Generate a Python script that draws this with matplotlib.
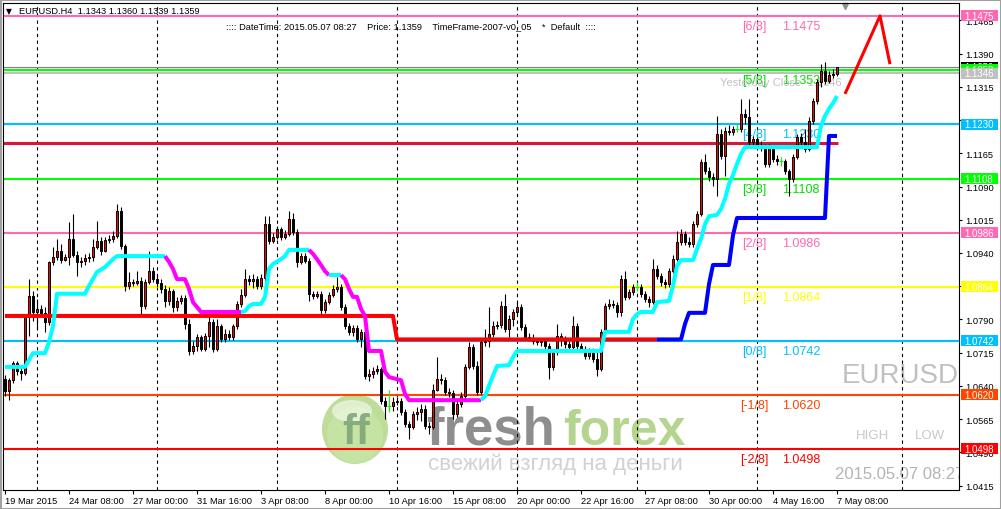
import matplotlib
matplotlib.use('Agg')
import matplotlib.pyplot as plt
import matplotlib.transforms as mtransforms
from matplotlib.patches import Rectangle, Ellipse
import numpy as np

# ---------------- data ----------------
opens = [1.0656,1.0629,1.0653,1.0692,1.0674,1.0669,1.0796,1.0843,1.0807,1.0814,
1.0805,1.0784,1.0920,1.0931,1.0945,1.0924,1.0931,1.0972,1.0936,1.0920,
1.0922,1.0929,1.0931,1.0954,1.0967,1.0945,1.0969,1.0972,1.0978,1.1035,
1.0956,1.0866,1.0875,1.0872,1.0877,1.0820,1.0875,1.0899,1.0881,1.0872,
1.0859,1.0832,1.0854,1.0818,1.0832,1.0839,1.0780,1.0719,1.0730,1.0751,
1.0723,1.0753,1.0784,1.0723,1.0775,1.0746,1.0757,1.0751,1.0775,1.0825,
1.0845,1.0881,1.0877,1.0881,1.0866,1.0884,1.1005,1.0967,1.0976,1.0994,
1.0976,1.0983,1.1017,1.0987,1.0920,1.0933,1.0922,1.0848,1.0843,1.0848,
1.0811,1.0829,1.0845,1.0859,1.0863,1.0818,1.0775,1.0762,1.0771,1.0746,
1.0762,1.0663,1.0667,1.0674,1.0678,1.0606,1.0595,1.0595,1.0604,1.0606,
1.0581,1.0554,1.0548,1.0577,1.0581,1.0588,1.0550,1.0548,1.0632,1.0656,
1.0653,1.0626,1.0624,1.0577,1.0599,1.0617,1.0683,1.0728,1.0685,1.0626,
1.0739,1.0742,1.0757,1.0775,1.0778,1.0820,1.0769,1.0791,1.0807,1.0818,
1.0773,1.0751,1.0748,1.0742,1.0739,1.0742,1.0730,1.0683,1.0717,1.0753,
1.0746,1.0735,1.0728,1.0775,1.0730,1.0723,1.0708,1.0719,1.0701,1.0678,
1.0762,1.0820,1.0825,1.0823,1.0807,1.0881,1.0841,1.0852,1.0863,1.0863,
1.0848,1.0836,1.0829,1.0904,1.0888,1.0875,1.0870,1.0899,1.0926,1.0965,
1.0983,1.0965,1.0960,1.1005,1.1028,1.1145,1.1125,1.1112,1.1107,1.1208,
1.1159,1.1215,1.1213,1.1220,1.1220,1.1254,1.1247,1.1190,1.1197,1.1181,
1.1179,1.1141,1.1179,1.1152,1.1148,1.1148,1.1125,1.1107,1.1157,1.1202,
1.1190,1.1175,1.1238,1.1283,1.1326,1.1351,1.1328,1.1342,1.1343]
highs = [1.0665,1.0658,1.0696,1.0696,1.0683,1.0802,1.0881,1.0854,1.0836,1.0823,
1.0818,1.0922,1.0954,1.0972,1.0960,1.0938,1.1010,1.1028,1.0945,1.0931,
1.0938,1.0940,1.0972,1.1012,1.0976,1.0976,1.0981,1.0990,1.1051,1.1044,
1.0960,1.0897,1.0881,1.0899,1.0886,1.0881,1.0945,1.0908,1.0890,1.0881,
1.0868,1.0863,1.0859,1.0841,1.0845,1.0845,1.0791,1.0742,1.0757,1.0755,
1.0760,1.0796,1.0791,1.0791,1.0780,1.0769,1.0766,1.0780,1.0832,1.0859,
1.0904,1.0890,1.0893,1.0888,1.0893,1.1023,1.1023,1.0985,1.1001,1.0999,
1.0992,1.1035,1.1030,1.0994,1.0940,1.0940,1.0929,1.0854,1.0854,1.0854,
1.0836,1.0852,1.0868,1.0886,1.0870,1.0825,1.0782,1.0778,1.0778,1.0769,
1.0769,1.0678,1.0683,1.0687,1.0683,1.0615,1.0632,1.0615,1.0615,1.0613,
1.0588,1.0561,1.0584,1.0593,1.0599,1.0597,1.0559,1.0644,1.0705,1.0667,
1.0660,1.0635,1.0632,1.0611,1.0626,1.0690,1.0739,1.0735,1.0696,1.0746,
1.0769,1.0818,1.0787,1.0787,1.0832,1.0848,1.0800,1.0814,1.0829,1.0825,
1.0780,1.0760,1.0757,1.0748,1.0746,1.0746,1.0737,1.0723,1.0780,1.0760,
1.0753,1.0742,1.0798,1.0782,1.0737,1.0730,1.0726,1.0726,1.0723,1.0769,
1.0827,1.0836,1.0834,1.0829,1.0890,1.0899,1.0859,1.0870,1.0875,1.0870,
1.0854,1.0843,1.0926,1.0913,1.0895,1.0881,1.0906,1.0936,1.0990,1.0994,
1.0990,1.0976,1.1012,1.1035,1.1152,1.1163,1.1134,1.1121,1.1249,1.1220,
1.1224,1.1229,1.1227,1.1231,1.1287,1.1265,1.1287,1.1204,1.1202,1.1193,
1.1186,1.1186,1.1184,1.1161,1.1157,1.1152,1.1130,1.1163,1.1208,1.1211,
1.1220,1.1247,1.1290,1.1333,1.1366,1.1371,1.1351,1.1355,1.1360]
lows = [1.0617,1.0608,1.0647,1.0665,1.0653,1.0665,1.0753,1.0787,1.0769,1.0796,
1.0762,1.0778,1.0913,1.0924,1.0917,1.0922,1.0913,1.0931,1.0888,1.0908,
1.0913,1.0920,1.0922,1.0949,1.0936,1.0942,1.0963,1.0965,1.0974,1.0949,
1.0854,1.0859,1.0866,1.0868,1.0800,1.0814,1.0870,1.0875,1.0863,1.0850,
1.0818,1.0823,1.0807,1.0809,1.0825,1.0769,1.0710,1.0712,1.0719,1.0719,
1.0719,1.0728,1.0717,1.0719,1.0739,1.0739,1.0744,1.0744,1.0769,1.0818,
1.0841,1.0868,1.0861,1.0859,1.0859,1.0877,1.0960,1.0963,1.0972,1.0969,
1.0972,1.0978,1.0981,1.0908,1.0915,1.0917,1.0832,1.0836,1.0839,1.0802,
1.0805,1.0825,1.0841,1.0852,1.0811,1.0769,1.0755,1.0753,1.0739,1.0728,
1.0656,1.0651,1.0658,1.0667,1.0599,1.0566,1.0581,1.0584,1.0597,1.0575,
1.0548,1.0520,1.0543,1.0563,1.0561,1.0543,1.0532,1.0543,1.0629,1.0644,
1.0620,1.0615,1.0566,1.0570,1.0593,1.0611,1.0678,1.0678,1.0620,1.0622,
1.0730,1.0728,1.0751,1.0769,1.0771,1.0762,1.0751,1.0775,1.0802,1.0766,
1.0744,1.0742,1.0735,1.0733,1.0730,1.0723,1.0656,1.0676,1.0710,1.0730,
1.0726,1.0721,1.0723,1.0723,1.0717,1.0701,1.0701,1.0694,1.0663,1.0674,
1.0757,1.0814,1.0816,1.0796,1.0798,1.0834,1.0836,1.0845,1.0854,1.0841,
1.0829,1.0818,1.0825,1.0881,1.0866,1.0861,1.0863,1.0895,1.0922,1.0958,
1.0958,1.0954,1.0954,1.0999,1.1023,1.1118,1.1102,1.1091,1.1069,1.1152,
1.1114,1.1206,1.1206,1.1213,1.1213,1.1231,1.1184,1.1184,1.1175,1.1170,
1.1134,1.1134,1.1145,1.1139,1.1136,1.1118,1.1069,1.1100,1.1152,1.1184,
1.1168,1.1170,1.1231,1.1276,1.1315,1.1321,1.1324,1.1335,1.1339]
closes = [1.0629,1.0653,1.0692,1.0674,1.0669,1.0796,1.0843,1.0807,1.0814,1.0805,
1.0784,1.0920,1.0931,1.0945,1.0924,1.0931,1.0972,1.0936,1.0920,1.0922,
1.0929,1.0931,1.0954,1.0967,1.0945,1.0969,1.0972,1.0978,1.1035,1.0956,
1.0866,1.0875,1.0872,1.0877,1.0820,1.0875,1.0899,1.0881,1.0872,1.0859,
1.0832,1.0854,1.0818,1.0832,1.0839,1.0780,1.0719,1.0730,1.0751,1.0723,
1.0753,1.0784,1.0723,1.0775,1.0746,1.0757,1.0751,1.0775,1.0825,1.0845,
1.0881,1.0877,1.0881,1.0866,1.0884,1.1005,1.0967,1.0976,1.0994,1.0976,
1.0983,1.1017,1.0987,1.0920,1.0933,1.0922,1.0848,1.0843,1.0848,1.0811,
1.0829,1.0845,1.0859,1.0863,1.0818,1.0775,1.0762,1.0771,1.0746,1.0762,
1.0663,1.0667,1.0674,1.0678,1.0606,1.0595,1.0595,1.0604,1.0606,1.0581,
1.0554,1.0548,1.0577,1.0581,1.0588,1.0550,1.0548,1.0632,1.0656,1.0653,
1.0626,1.0624,1.0577,1.0599,1.0617,1.0683,1.0728,1.0685,1.0626,1.0739,
1.0742,1.0757,1.0775,1.0778,1.0820,1.0769,1.0791,1.0807,1.0818,1.0773,
1.0751,1.0748,1.0742,1.0739,1.0742,1.0730,1.0683,1.0717,1.0753,1.0746,
1.0735,1.0728,1.0775,1.0730,1.0723,1.0708,1.0719,1.0701,1.0678,1.0762,
1.0820,1.0825,1.0823,1.0807,1.0881,1.0841,1.0852,1.0863,1.0863,1.0848,
1.0836,1.0829,1.0904,1.0888,1.0875,1.0870,1.0899,1.0926,1.0965,1.0983,
1.0965,1.0960,1.1005,1.1028,1.1145,1.1125,1.1112,1.1107,1.1208,1.1159,
1.1215,1.1213,1.1220,1.1220,1.1254,1.1247,1.1190,1.1197,1.1181,1.1179,
1.1141,1.1179,1.1152,1.1148,1.1148,1.1125,1.1107,1.1157,1.1202,1.1190,
1.1175,1.1238,1.1283,1.1326,1.1351,1.1328,1.1342,1.1344,1.1359]

date_labels = ["19 Mar 2015", "24 Mar 08:00", "27 Mar 00:00", "31 Mar 16:00", "3 Apr 08:00",
               "8 Apr 00:00", "10 Apr 16:00", "15 Apr 08:00", "20 Apr 00:00", "22 Apr 16:00",
               "27 Apr 08:00", "30 Apr 00:00", "4 May 16:00", "7 May 08:00"]
date_label_idx = [0, 16, 32, 48, 64, 80, 96, 112, 128, 144, 160, 176, 192, 208]
grid_idx = [8, 38, 68, 98, 128, 158, 188, 224.25]

price_ticks = [1.0415, 1.0490, 1.0565, 1.0640, 1.0715, 1.0790, 1.0865, 1.0940,
               1.1015, 1.1090, 1.1165, 1.1240, 1.1315, 1.1390, 1.1465]

mm_labels = ["[6/8]", "[5/8]", "[4/8]", "[3/8]", "[2/8]", "[1/8]", "[0/8]", "[-1/8]", "[-2/8]"]
mm_values = [1.1475, 1.1353, 1.1230, 1.1108, 1.0986, 1.0864, 1.0742, 1.0620, 1.0498]
mm_colors = ['#FF69B4', '#00FF00', '#00BFFF', '#00FF00', '#FF69B4', '#FFFF00', '#00BFFF', '#FF4500', '#FF0000']
mm_text_colors = ['#FF69B4', '#00E000', '#00BFFF', '#00E000', '#FF69B4', '#FFFF00', '#00BFFF', '#FF4500', '#FF0000']

yesterday_close = 1.1346
crimson_level = 1.1188

trail_idx = [0, 5, 7, 10, 11, 12, 13, 20, 21, 23, 25, 27, 28, 40,
             41, 42, 43, 45, 46, 47, 48, 49, 59,
             60, 61, 62, 64, 65, 66, 67, 69, 70, 71, 76,
             77, 78, 79, 80, 81, 84, 85, 86, 87, 88, 89, 90, 91, 94, 95, 96, 99, 100, 101, 119,
             120, 121, 122, 123, 126, 127, 128, 149, 150, 156, 157, 158, 159, 162, 163, 166, 167,
             168, 169, 172, 173, 174, 175, 176, 178, 179, 180, 181, 182, 183, 184, 185, 203, 204,
             205, 206, 207, 208]
trail_val = [1.0683, 1.0683, 1.0714, 1.0714, 1.0739, 1.0775, 1.0848, 1.0848, 1.0866, 1.0897, 1.0908, 1.0926, 1.0933, 1.0933,
             1.0920, 1.0904, 1.0881, 1.0881, 1.0859, 1.0829, 1.0818, 1.0807, 1.0807,
             1.0809, 1.0820, 1.0825, 1.0825, 1.0841, 1.0904, 1.0915, 1.0926, 1.0933, 1.0947, 1.0947,
             1.0938, 1.0926, 1.0913, 1.0899, 1.0890, 1.0890, 1.0881, 1.0859, 1.0841, 1.0841, 1.0814, 1.0798,
             1.0719, 1.0719, 1.0672, 1.0660, 1.0653, 1.0622, 1.0608, 1.0608,
             1.0617, 1.0640, 1.0663, 1.0685, 1.0687, 1.0705, 1.0719, 1.0719, 1.0762, 1.0762, 1.0791, 1.0802,
             1.0807, 1.0807, 1.0829, 1.0832, 1.0866, 1.0911, 1.0924, 1.0924, 1.0949, 1.0972, 1.1005, 1.1023,
             1.1026, 1.1039, 1.1062, 1.1096, 1.1116, 1.1141, 1.1163, 1.1179, 1.1179, 1.1227, 1.1249, 1.1265,
             1.1278, 1.1294]
trail_dir = "U" * 14 + "D" * 9 + "U" * 11 + "D" * 5 + "U" + "D" * 14 + "U" * 38

step_idx = [0, 97, 98, 163, 169, 170, 171, 175, 176, 177, 181, 182, 183, 205, 206, 208]
step_val = [1.0798, 1.0798, 1.0745, 1.0745, 1.0745, 1.0780, 1.0805, 1.0805, 1.0870, 1.0913,
            1.0913, 1.0980, 1.1019, 1.1019, 1.1204, 1.1204]
step_dir = "RRRR" + "B" * 12

forecast_idx = [210, 218.75, 221.25]
forecast_val = [1.1299, 1.1475, 1.1366]

# ---------------- layout ----------------
W, H = 1001, 510
FONT = 'Liberation Sans'
plt.rcParams['font.family'] = [FONT, 'DejaVu Sans']

fig = plt.figure(figsize=(W / 100, H / 100), dpi=100, facecolor='white')
bg = fig.add_axes([0, 0, 1, 1], zorder=0)
bg.set_xlim(0, W)
bg.set_ylim(H, 0)
bg.axis('off')

L, R, T, B = 3, 959, 4, 491
ax = fig.add_axes([L / W, (H - B) / H, (R - L) / W, (B - T) / H], zorder=1)
ax.patch.set_alpha(0)
ax.set_xlim(-0.5, 238.5)
YMIN, YMAX = 1.04053, 1.15040
ax.set_ylim(YMIN, YMAX)
px_y = (YMAX - YMIN) / (B - T)   # price per pixel

for s in ax.spines.values():
    s.set_color('black')
    s.set_linewidth(0.8)

# grid
for g in grid_idx:
    ax.axvline(g, color='black', lw=0.8, ls=(0, (3, 3)), zorder=0.5)

# murrey lines
for v, col in zip(mm_values, mm_colors):
    ax.axhline(v, color=col, lw=1.5, zorder=1)
ax.axhline(closes[-1], color='#808080', lw=0.8, zorder=1)
ax.axhline(yesterday_close, color='#C0C0C0', lw=1.5, zorder=1)
ax.plot([-0.5, 208.25], [crimson_level, crimson_level], color='#DC143C', lw=2.2, zorder=1.2,
        solid_capstyle='butt')

# murrey labels
for lab, v, col in zip(mm_labels, mm_values, mm_text_colors):
    ax.text(187.4, v - 13 * px_y, lab, color=col, fontsize=9, ha='center', va='baseline', zorder=1.5)
    ax.text(199.0, v - 13 * px_y, f"{v:.4f}", color=col, fontsize=9, ha='center', va='baseline', zorder=1.5)
ax.text(178.75, yesterday_close - 11.5 * px_y, f"Yesterday Close  {yesterday_close:.4f}",
        color='#C0C0C0', fontsize=8, ha='left', va='baseline', zorder=1.6)

# candles
o = np.array(opens); h = np.array(highs); l = np.array(lows); c = np.array(closes)
idx = np.arange(len(c))
up = c > o
dn = c < o
dj = c == o
ax.vlines(idx[~dj], l[~dj], h[~dj], color='black', lw=0.8, zorder=3)
ax.bar(idx[up], c[up] - o[up], bottom=o[up], width=0.6, color='#FF0000', edgecolor='black',
       linewidth=0.7, zorder=3.1)
ax.bar(idx[dn], o[dn] - c[dn], bottom=c[dn], width=0.6, color='black', edgecolor='black',
       linewidth=0.7, zorder=3.1)
ax.vlines(idx[dj], l[dj], h[dj], color='#00FF00', lw=0.8, zorder=3)
ax.hlines(c[dj], idx[dj] - 0.45, idx[dj] + 0.45, color='#00FF00', lw=0.8, zorder=3)


def draw_runs(xs, ys, dirs, colors, lw, z):
    start = 0
    n = len(xs)
    for k in range(1, n):
        if k == n - 1 or dirs[k + 1] != dirs[k]:
            ax.plot(xs[start:k + 1], ys[start:k + 1], color=colors[dirs[k]], lw=lw, zorder=z,
                    solid_capstyle='butt', solid_joinstyle='round')
            start = k


draw_runs(step_idx, step_val, step_dir, {'R': '#FF0000', 'B': '#0000FF'}, 2.9, 4)
draw_runs(trail_idx, trail_val, trail_dir, {'U': '#00FFFF', 'D': '#FF00FF'}, 2.9, 4.2)
ax.plot(forecast_idx, forecast_val, color='#FF0000', lw=2.2, zorder=4, solid_capstyle='butt')

# axes ticks
ax.yaxis.tick_right()
ax.set_yticks(price_ticks)
ax.set_yticklabels([f"{p:.4f}" for p in price_ticks])
ax.tick_params(axis='y', direction='out', length=2.5, width=0.8, pad=2, labelsize=6.7, colors='black')
ax.set_xticks(date_label_idx)
ax.set_xticklabels(date_labels)
ax.tick_params(axis='x', direction='out', length=3, width=0.8, pad=1.5, labelsize=6.7, colors='black')
for t in ax.get_xticklabels():
    t.set_ha('left')

# right-hand price boxes
trans = mtransforms.blended_transform_factory(ax.transAxes, ax.transData)
bx0 = (960.5 - L) / (R - L)
bw = 37.0 / (R - L)
bh = 11 * px_y
box_vals = [closes[-1], mm_values[1], yesterday_close] + [mm_values[i] for i in (0, 2, 3, 4, 5, 6, 7, 8)]
box_cols = ['#000000', '#00FF00', '#C0C0C0'] + [mm_colors[i] for i in (0, 2, 3, 4, 5, 6, 7, 8)]
for k, (v, col) in enumerate(zip(box_vals, box_cols)):
    ax.add_patch(Rectangle((bx0, v - bh / 2), bw, bh, transform=trans, clip_on=False,
                           fc=col, ec='none', zorder=10 + k))
    ax.text(bx0 + bw / 2, v, f"{v:.4f}", transform=trans, clip_on=False, color='white',
            fontsize=6.9, ha='center', va='center', zorder=10.5 + k)

# ---------------- overlay texts (pixel coordinates) ----------------
bg.text(9, 12, "\u25BC", fontsize=5.5, ha='center', va='center', family=['DejaVu Sans'])
o_, h_, l_, c_ = opens[-1], highs[-1], lows[-1], closes[-1]
bg.text(19, 12, f"EURUSD.H4  {o_:.4f} {h_:.4f} {l_:.4f} {c_:.4f}", fontsize=6.7, ha='left', va='center')
bg.text(226, 27, f":::: DateTime: 2015.05.07 08:27    Price: {c_:.4f}    TimeFrame-2007-v0_05    *  Default  ::::",
        fontsize=6.7, ha='left', va='center')
bg.plot([845], [7], marker='v', color='#909090', markersize=5)

bg.text(842, 383, "EURUSD", fontsize=20, color='#C0C0C0', ha='left', va='baseline')
bg.text(856, 439, "HIGH", fontsize=9.5, color='#C8C8C8', ha='left', va='baseline')
bg.text(915, 439, "LOW", fontsize=9.5, color='#C8C8C8', ha='left', va='baseline')
ax.text(835, 479, "2015.05.07 08:27", fontsize=12, color='#B4B4B4', ha='left', va='baseline',
        transform=bg.transData, clip_on=True, zorder=0.3)

# watermark
bg.add_patch(Ellipse((355, 430), 66, 70, fc='#A8D27A', ec='none', alpha=0.75, zorder=0.2))
bg.add_patch(Ellipse((355, 436), 56, 56, fc='#C9E6A6', ec='none', alpha=0.7, zorder=0.3))
bg.add_patch(Ellipse((352, 412), 40, 22, fc='white', ec='none', alpha=0.55, zorder=0.4))
bg.text(356, 444, "ff", fontsize=30, fontweight='bold', color='#7FA57A', ha='center', va='baseline',
        zorder=0.5, alpha=0.9)
bg.text(426, 445, "fresh", fontsize=38, fontweight='bold', color='#8E8E8E', ha='left', va='baseline',
        zorder=0.5)
bg.text(563, 445, "forex", fontsize=36, fontweight='bold', color='#B5D48F', ha='left', va='baseline',
        zorder=0.5)
bg.text(428, 470, "свежий взгляд на деньги", fontsize=16, color='#D2D2D2', ha='left', va='baseline',
        zorder=0.5)

# window border
bg.add_patch(Rectangle((0.5, 0.5), W - 1, H - 1, fill=False, ec='#A0A0A0', lw=1.5, zorder=5))

fig.savefig('out.png', dpi=100, facecolor='white')
